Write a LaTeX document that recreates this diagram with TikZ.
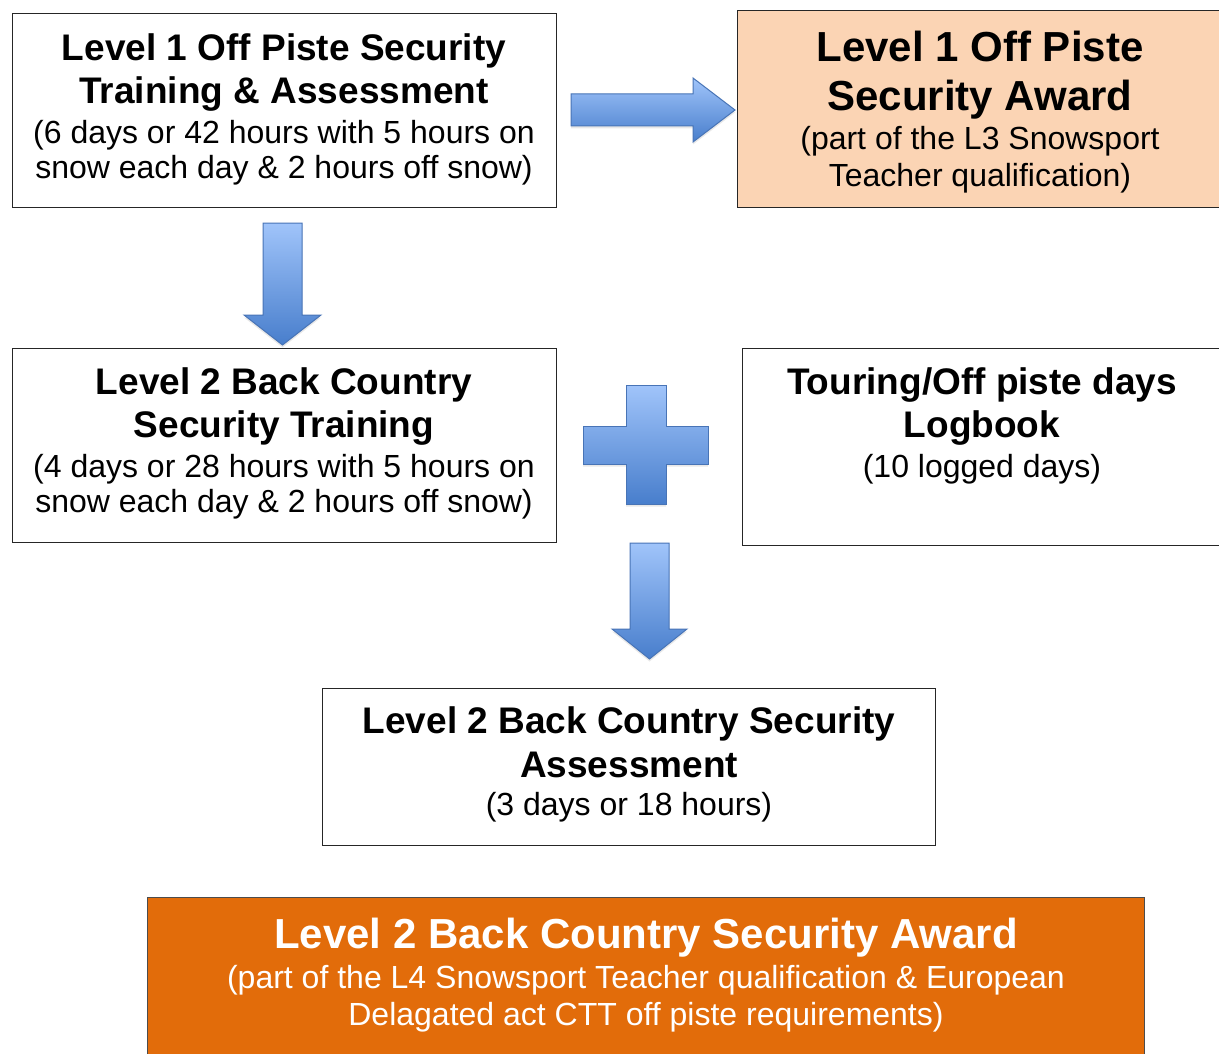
\documentclass[tikz,border=0pt]{standalone}
\usepackage{fontspec}
\setmainfont{Liberation Sans}
\usetikzlibrary{shadows}
\definecolor{peach}{RGB}{251,212,180}
\definecolor{orng}{RGB}{226,108,10}
\definecolor{bluetop}{RGB}{160,196,250}
\definecolor{bluebot}{RGB}{72,126,204}
\definecolor{blueedge}{RGB}{72,116,182}
\tikzset{
  box/.style={draw=black!85, line width=1pt, anchor=north west, inner sep=0pt},
  blockarrow/.style={draw=blueedge, line width=1pt, top color=bluetop, bottom color=bluebot,
     drop shadow={opacity=0.18, shadow xshift=0pt, shadow yshift=-2.5pt}},
  ttl/.style={anchor=base, inner sep=0pt, font=\fontsize{37}{43}\selectfont\bfseries},
  bigttl/.style={anchor=base, inner sep=0pt, font=\fontsize{42}{49}\selectfont\bfseries},
  sub/.style={anchor=base, inner sep=0pt, font=\fontsize{32}{36}\selectfont},
}
\begin{document}
\begin{tikzpicture}[x=1pt,y=-1pt]
\useasboundingbox (0,0) rectangle (1219,1054);
\clip (0,0) rectangle (1219,1054);
\fill[white] (0,0) rectangle (1219,1054);

% boxes
\node[box, minimum width=544pt, minimum height=194pt] (b1) at (12,13) {};
\node[box, fill=peach, minimum width=490pt, minimum height=197pt] (b2) at (737,10) {};
\node[box, minimum width=544pt, minimum height=194pt] (b3) at (12,348) {};
\node[box, minimum width=485pt, minimum height=197pt] (b4) at (742,348) {};
\node[box, minimum width=613pt, minimum height=157pt] (b5) at (322,688) {};
\node[box, fill=orng, draw=black!70, minimum width=997pt, minimum height=175pt] (b6) at (147,897) {};

% texts box 1
\node[ttl] (t1a) at (284,60.5) {Level 1 Off Piste Security};
\node[ttl] (t1b) at (284,103.5) {Training \& Assessment};
\node[sub] (t1c) at (284,143.5) {(6 days or 42 hours with 5 hours on};
\node[sub] (t1d) at (284,178.5) {snow each day \& 2 hours off snow)};

% box 2
\node[bigttl] (t2a) at (980,62) {Level 1 Off Piste};
\node[bigttl] (t2b) at (980,111) {Security Award};
\node[sub] (t2c) at (980,149.5) {(part of the L3 Snowsport};
\node[sub] (t2d) at (980,186.5) {Teacher qualification)};

% box 3
\node[ttl] (t3a) at (284,394.5) {Level 2 Back Country};
\node[ttl] (t3b) at (284,437.5) {Security Training};
\node[sub] (t3c) at (284,477.5) {(4 days or 28 hours with 5 hours on};
\node[sub] (t3d) at (284,512.5) {snow each day \& 2 hours off snow)};

% box 4
\node[ttl] (t4a) at (982,394) {Touring/Off piste days};
\node[ttl] (t4b) at (982,437.5) {Logbook};
\node[sub] (t4c) at (982,477) {(10 logged days)};

% box 5
\node[ttl] (t5a) at (629,733.5) {Level 2 Back Country Security};
\node[ttl] (t5b) at (629,777.5) {Assessment};
\node[sub] (t5c) at (629,815) {(3 days or 18 hours)};

% box 6
\node[bigttl, text=white] (t6a) at (646,948) {Level 2 Back Country Security Award};
\node[sub, text=white] (t6b) at (646,988) {(part of the L4 Snowsport Teacher qualification \& European};
\node[sub, text=white] (t6c) at (646,1025) {Delagated act CTT off piste requirements)};

% block arrows
\path[blockarrow] (571,94) -- (693,94) -- (693,78) -- (735,110) -- (693,142) -- (693,126) -- (571,126) -- cycle;
\path[blockarrow] (263,223) -- (302,223) -- (302,315) -- (321,315) -- (282.5,345) -- (244,315) -- (263,315) -- cycle;
\path[blockarrow] (630,543) -- (669,543) -- (669,629) -- (687,629) -- (649.5,659) -- (612,629) -- (630,629) -- cycle;
% plus
\path[blockarrow] (626,385) -- (666,385) -- (666,426) -- (708,426) -- (708,464) -- (666,464) -- (666,504) -- (626,504) -- (626,464) -- (583,464) -- (583,426) -- (626,426) -- cycle;
\end{tikzpicture}
\end{document}
